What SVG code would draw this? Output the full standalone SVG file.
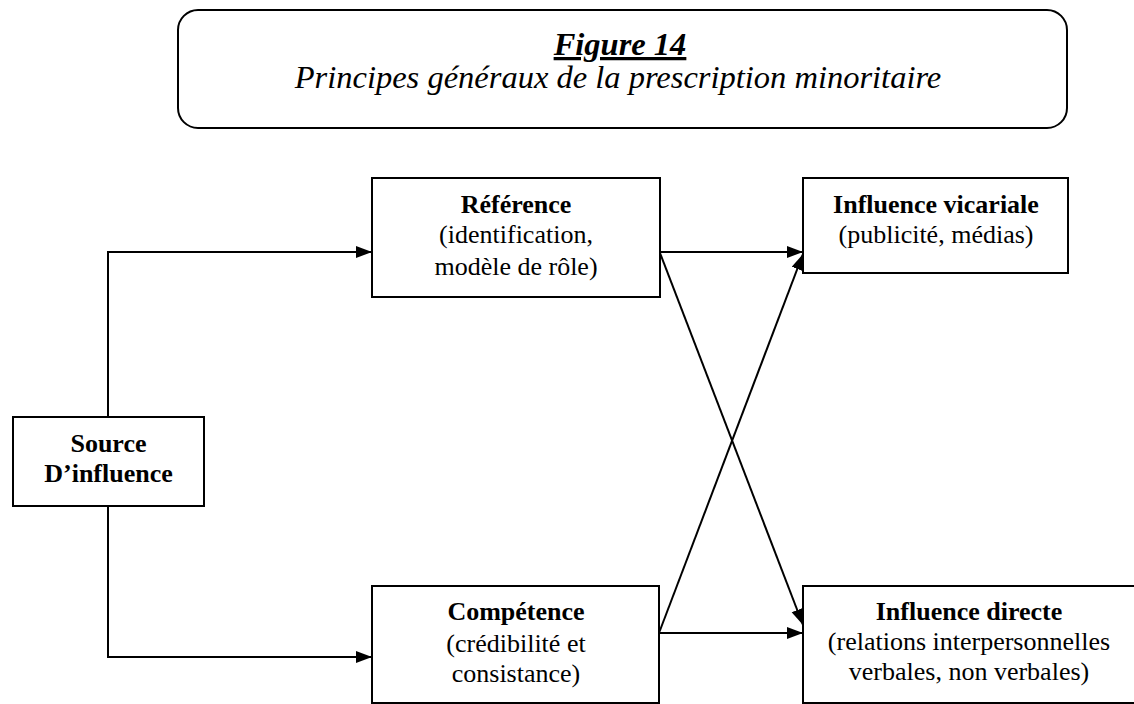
<svg xmlns="http://www.w3.org/2000/svg" width="1134" height="704" viewBox="0 0 1134 704">
  <defs>
    <marker id="arrow" markerUnits="userSpaceOnUse" markerWidth="17" markerHeight="13" refX="16" refY="6" orient="auto">
      <path d="M0,0 L16,6 L0,12 z" fill="#000"/>
    </marker>
    <style>
      .box { fill: #fff; stroke: #000; stroke-width: 2; }
      .link { fill: none; stroke: #000; stroke-width: 2; marker-end: url(#arrow); }
      text { font-family: "Liberation Serif", "Times New Roman", serif; fill: #000; text-anchor: middle; }
      .head { font-size: 26px; font-weight: bold; }
      .sub { font-size: 26px; }
      .title { font-size: 32.5px; font-style: italic; }
    </style>
  </defs>
  <rect width="1134" height="704" fill="#fff"/>

  <!-- title frame -->
  <g id="title">
    <rect class="box" x="178" y="10" width="889" height="118" rx="20" ry="20"/>
    <text class="title" x="620" y="55" font-weight="bold" text-decoration="underline">Figure 14</text>
    <text class="title" x="618" y="88">Principes généraux de la prescription minoritaire</text>
  </g>

  <!-- connectors -->
  <g id="connectors">
    <path class="link" d="M108,417 V252 H372"/>
    <path class="link" d="M108,506 V657 H372"/>
    <path class="link" d="M660,252 H803"/>
    <path class="link" d="M660,253 L803,625"/>
    <path class="link" d="M659,633 H803"/>
    <path class="link" d="M659,633 L803,254"/>
  </g>

  <g id="source">
    <rect class="box" x="13" y="417" width="191" height="89"/>
    <text class="head" x="108.5" y="452">Source</text>
    <text class="head" x="108.5" y="482">D’influence</text>
  </g>

  <g id="reference">
    <rect class="box" x="372" y="178" width="288" height="119"/>
    <text class="head" x="516" y="213">Référence</text>
    <text class="sub" x="516" y="243">(identification,</text>
    <text class="sub" x="516" y="275">modèle de rôle)</text>
  </g>

  <g id="competence">
    <rect class="box" x="372" y="586" width="287" height="117"/>
    <text class="head" x="516" y="620">Compétence</text>
    <text class="sub" x="516" y="652">(crédibilité et</text>
    <text class="sub" x="516" y="682">consistance)</text>
  </g>

  <g id="vicariale">
    <rect class="box" x="803" y="178" width="265" height="95"/>
    <text class="head" x="936" y="213">Influence vicariale</text>
    <text class="sub" x="936" y="243">(publicité, médias)</text>
  </g>

  <g id="directe">
    <rect class="box" x="803" y="586" width="340" height="117"/>
    <text class="head" x="969" y="620">Influence directe</text>
    <text class="sub" x="969" y="650">(relations interpersonnelles</text>
    <text class="sub" x="969" y="680">verbales, non verbales)</text>
  </g>
</svg>
